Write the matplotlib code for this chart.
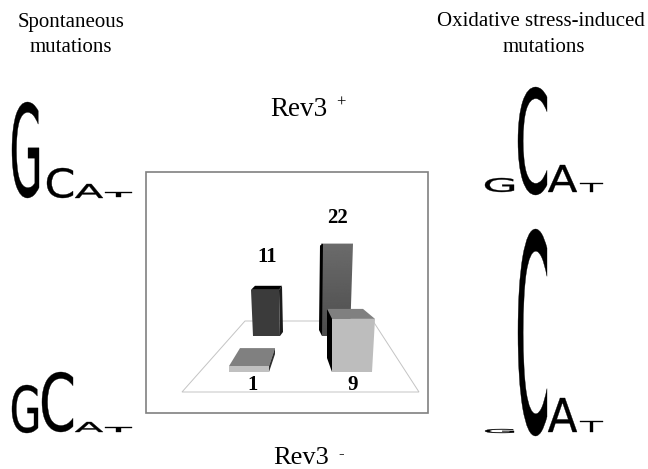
import numpy as np
import matplotlib.pyplot as plt
from matplotlib.font_manager import FontProperties
from matplotlib.patches import PathPatch, Polygon, Rectangle
from matplotlib.textpath import TextPath
from matplotlib.transforms import Affine2D

W, H = 648, 469

# logo letters and their stack heights (pixels)
LETTERS = ["G", "C", "A", "T"]
spont_rev3_plus = [96, 30, 14, 5]
spont_rev3_minus = [48, 60, 10, 5]
oxid_rev3_plus = [14, 108, 27, 9]
oxid_rev3_minus = [4, 207, 34, 11]

# bar values
bar_labels = ["11", "22", "1", "9"]
bar_values = [11, 22, 1, 9]

LOGO_FONT = FontProperties(family="DejaVu Sans")
SERIF = "Liberation Serif"

# letter x-extents and baseline of each logo
LEFT_X = [(12, 39), (47, 73), (75, 103), (105, 132)]
LEFT2_X = [(12, 38), (42, 73), (75, 103), (105, 132)]
RIGHT_X = [(485, 514), (518, 547), (548, 577), (580, 603)]

fig = plt.figure(figsize=(W / 100, H / 100), dpi=100)
ax = fig.add_axes([0, 0, 1, 1])
ax.set_xlim(0, W)
ax.set_ylim(H, 0)
ax.axis("off")


def draw_letter(ch, x0, x1, base, height):
    tp = TextPath((0, 0), ch, size=100, prop=LOGO_FONT)
    bb = tp.get_extents()
    tr = (Affine2D().translate(-bb.x0, -bb.y0)
          .scale((x1 - x0) / bb.width, -height / bb.height)
          .translate(x0, base))
    ax.add_patch(PathPatch(tr.transform_path(tp), fc="black", ec="black", lw=0.25))


def draw_logo(heights, xs, bases):
    for ch, h, (x0, x1), base in zip(LETTERS, heights, xs, bases):
        draw_letter(ch, x0, x1, base, h)


draw_logo(spont_rev3_plus, LEFT_X, [198, 198, 198, 197])
draw_logo(spont_rev3_minus, LEFT2_X, [433, 432, 432, 432])
draw_logo(oxid_rev3_plus, RIGHT_X, [192, 195, 192, 192])
draw_logo(oxid_rev3_minus, RIGHT_X, [433, 436, 432, 432])

# frame and floor
ax.add_patch(Rectangle((146, 172), 282, 241, fc="white", ec="#808080", lw=1.2))
ax.add_patch(Polygon([(245, 321), (373, 321), (419, 392), (182, 392)],
                     closed=True, fc="white", ec="#c4c4c4", lw=0.7))

BACK_SCALE = 4.2    # px per unit on the back row
FRONT_SCALE = 5.9   # px per unit on the front row


def poly(pts, color):
    ax.add_patch(Polygon(pts, closed=True, fc=color, ec="none", zorder=3))


# back left bar
h = bar_values[0] * BACK_SCALE
top = 336 - h
poly([(255, top - 4), (282, top - 4), (279, top), (251, top)], "black")
poly([(279, top), (282, top - 4), (283, 332), (280, 336)], "#1c1c1c")
poly([(251, top), (279, top), (280, 336), (253, 336)], "#3b3b3b")

# back right bar, front face has a soft gradient
h = bar_values[1] * BACK_SCALE
top = 336 - h
poly([(320, top + 2), (323, top), (322, 336), (319, 330)], "black")
face = Polygon([(321, top), (353, top), (350, 336), (322, 336)], closed=True,
               fc="none", ec="none")
ax.add_patch(face)
grad = np.linspace(0.42, 0.30, 64).reshape(-1, 1)
im = ax.imshow(grad, extent=(319, 354, 336, top), cmap="gray", vmin=0, vmax=1,
               aspect="auto", zorder=2)
im.set_clip_path(face)
ax.set_xlim(0, W)
ax.set_ylim(H, 0)

# front left bar
h = bar_values[2] * FRONT_SCALE
top = 372 - h
poly([(240, top - 18), (275, top - 18), (269, top), (229, top)], "#808080")
poly([(275, top - 18), (275, top - 12), (269, 372), (269, top)], "#2e2e2e")
poly([(229, top), (269, top), (269, 372), (229, 372)], "#c0c0c0")

# front right bar
h = bar_values[3] * FRONT_SCALE
top = 372 - h
poly([(327, top - 10), (363, top - 10), (375, top), (332, top)], "#808080")
poly([(327, top - 10), (332, top), (332, 372), (327, 358)], "black")
poly([(332, top), (375, top), (372, 372), (332, 372)], "#bdbdbd")

# bar value labels
for lab, x, y in zip(bar_labels, [267, 337, 253, 353], [257, 218, 385, 385]):
    ax.text(x, y, lab, family=SERIF, weight="bold", fontsize=15,
            ha="center", va="center", zorder=5)

# headings
ax.text(71, 22, "Spontaneous", family=SERIF, fontsize=15, ha="center", va="center")
ax.text(71, 47, "mutations", family=SERIF, fontsize=15, ha="center", va="center")
ax.text(541, 21, "Oxidative stress-induced", family=SERIF, fontsize=15,
        ha="center", va="center")
ax.text(544, 47, "mutations", family=SERIF, fontsize=15, ha="center", va="center")

ax.text(270, 109, "Rev3", family=SERIF, fontsize=19.5, ha="left", va="center")
ax.text(336, 103, "+", family=SERIF, fontsize=12, ha="left", va="center")
ax.text(273, 458, "Rev3", family=SERIF, fontsize=19, ha="left", va="center")
ax.text(338, 454, "-", family=SERIF, fontsize=12, ha="left", va="center")

fig.savefig("out.png", dpi=100)
